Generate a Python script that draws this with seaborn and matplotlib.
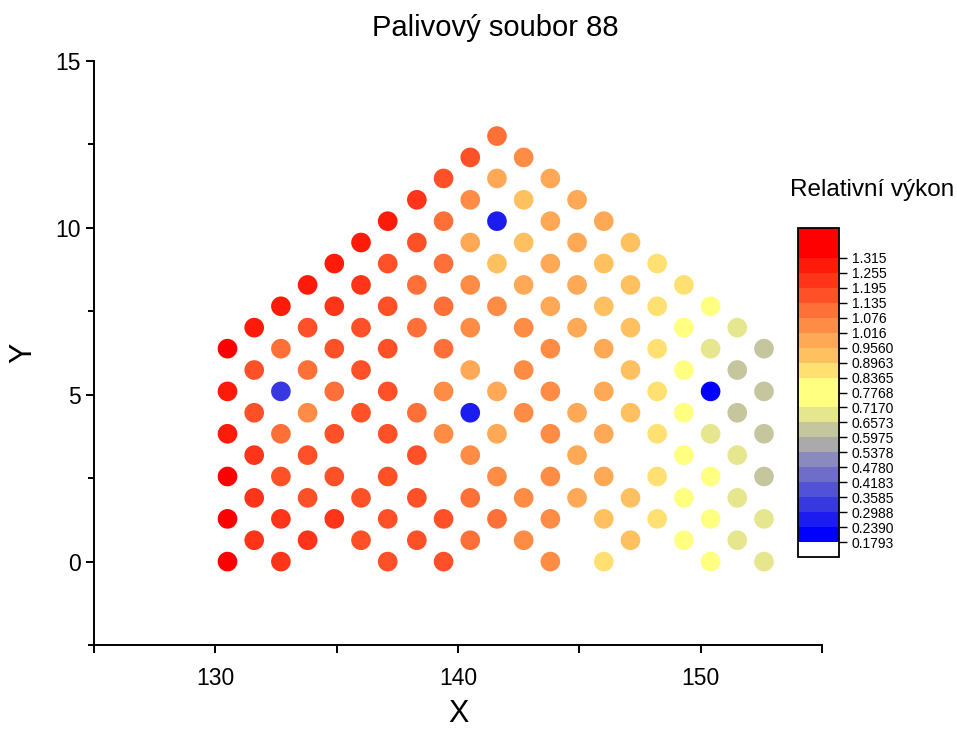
import numpy as np
import pandas as pd
import matplotlib
matplotlib.use('agg')
import matplotlib.pyplot as plt
import seaborn as sns
from matplotlib.colors import ListedColormap, BoundaryNorm
from matplotlib.cm import ScalarMappable
from matplotlib.ticker import MultipleLocator, FixedLocator


# --- data

# x position of every pin column, y position of every half-row
col_x = [130.5, 131.6, 132.7, 133.8, 134.9, 136.0, 137.1, 138.3, 139.4, 140.5,
         141.6, 142.7, 143.8, 144.9, 146.0, 147.1, 148.2, 149.3, 150.4, 151.5, 152.6]
row_y = [0.0, 0.64, 1.28, 1.91, 2.55, 3.19, 3.83, 4.46, 5.10, 5.74, 6.38,
         7.01, 7.65, 8.29, 8.93, 9.56, 10.20, 10.84, 11.48, 12.11, 12.75]

# relative power per column, bottom to top (every second half-row), None = empty position
col_vals = [
    [1.34, 1.34, 1.34, 1.28, 1.28, 1.34],
    [1.22, 1.22, 1.22, 1.16, 1.16, 1.28],
    [1.22, 1.22, 1.16, 1.10, 0.33, 1.10, 1.28],
    [1.22, 1.16, 1.16, 1.04, 1.10, 1.16, 1.28],
    [None, 1.22, 1.16, 1.16, 1.10, 1.16, 1.22, 1.28],
    [1.16, 1.16, None, 1.16, 1.16, 1.16, 1.22, 1.28],
    [1.16, 1.16, 1.16, 1.16, 1.16, 1.16, 1.16, 1.16, 1.28],
    [1.16, 1.16, 1.16, 1.10, None, 1.10, 1.10, 1.16, 1.22],
    [1.16, 1.16, None, 1.04, 1.04, 1.10, 1.10, 1.10, 1.10, 1.16],
    [1.10, 1.10, 1.04, 0.27, 0.98, 1.04, 1.04, 0.98, 1.04, 1.16],
    [None, 1.10, 1.04, 0.98, 0.98, None, 1.04, 0.92, 0.27, 0.98, 1.10],
    [1.04, 1.04, None, 1.04, 1.04, 1.04, 0.98, 0.92, 0.92, 1.04],
    [1.04, 1.04, 1.04, 1.04, 1.04, 1.04, 0.98, 0.98, 0.98, 0.98],
    [None, 0.98, 0.98, 0.98, None, 0.98, 0.98, 0.98, 0.98],
    [0.86, 0.92, 0.98, 0.98, 0.98, 0.98, 0.92, 0.92, 0.98],
    [0.92, 0.92, None, 0.92, 0.92, 0.92, 0.92, 0.92],
    [None, 0.86, 0.86, 0.86, 0.86, 0.86, 0.86, 0.86],
    [0.78, 0.78, 0.78, 0.78, 0.78, 0.78, 0.86],
    [0.78, 0.78, 0.78, 0.69, 0.21, 0.69, 0.78],
    [0.69, 0.69, 0.69, 0.63, 0.63, 0.69],
    [0.69, 0.69, 0.63, 0.63, 0.63, 0.63],
]

# colour levels of the scale
bounds = [0.1196, 0.1793, 0.2390, 0.2988, 0.3585, 0.4183, 0.4780, 0.5378, 0.5975,
          0.6573, 0.7170, 0.7768, 0.8365, 0.8963, 0.9560, 1.016, 1.076, 1.135,
          1.195, 1.255, 1.315, 1.375, 1.435]
band_colors = ["#FFFFFF", "#0000FF", "#1C1CF0", "#3838E0", "#5252D6", "#6E6EC8",
               "#8A8ABE", "#AAAAAA", "#C6C69E", "#E6E68E", "#FFFF80", "#FFFF80",
               "#FFE070", "#FFC060", "#FFA855", "#FF8C44", "#FF7038", "#FF5028",
               "#FF3418", "#FF1A0A", "#FF0000", "#FF0000"]
cb_labels = ["0.1793", "0.2390", "0.2988", "0.3585", "0.4183", "0.4780", "0.5378",
             "0.5975", "0.6573", "0.7170", "0.7768", "0.8365", "0.8963", "0.9560",
             "1.016", "1.076", "1.135", "1.195", "1.255", "1.315"]


# --- build table of pins

rows = []
for i, vals in enumerate(col_vals):
    for k, v in enumerate(vals):
        if v is None:
            continue
        j = (i % 2) + 2 * k
        rows.append((col_x[i], row_y[j], v))
df = pd.DataFrame(rows, columns=["x", "y", "v"])

cmap = ListedColormap(band_colors)
norm = BoundaryNorm(bounds, cmap.N)


# --- plot

sns.set_style("ticks")
plt.rcParams['font.family'] = ['Liberation Sans', 'DejaVu Sans']
plt.rcParams.update({'text.color': 'black', 'axes.labelcolor': 'black',
                     'xtick.color': 'black', 'ytick.color': 'black',
                     'axes.edgecolor': 'black'})

fig = plt.figure(figsize=(9.57, 7.31), dpi=100)
ax = fig.add_axes([0.0982, 0.1176, 0.761, 0.799])

sns.scatterplot(data=df, x="x", y="y", hue="v", palette=cmap, hue_norm=norm,
                s=200, linewidth=0, legend=False, ax=ax)

ax.set_xlim(125, 155)
ax.set_ylim(-2.5, 15)
ax.xaxis.set_major_locator(FixedLocator([130, 140, 150]))
ax.xaxis.set_minor_locator(MultipleLocator(5))
ax.yaxis.set_major_locator(MultipleLocator(5))
ax.yaxis.set_minor_locator(MultipleLocator(2.5))

for side in ['top', 'right']:
    ax.spines[side].set_visible(False)
for side in ['left', 'bottom']:
    ax.spines[side].set_linewidth(1.4)
    ax.spines[side].set_color('black')

ax.tick_params(which='both', direction='out', width=1.4, color='black',
               labelcolor='black', labelsize=16.5)
ax.tick_params(axis='x', which='both', length=6, pad=10)
ax.tick_params(axis='y', which='major', length=6)
ax.tick_params(axis='y', which='minor', length=4)

ax.set_xlabel("X", fontsize=22, labelpad=6, color='black')
ax.set_ylabel("Y", fontsize=22, labelpad=12, color='black')

fig.text(0.518, 0.962, "Palivový soubor 88", ha='center', va='center',
         fontsize=21, color='black')

# colour scale
cax = fig.add_axes([0.834, 0.238, 0.0428, 0.45])
cb = fig.colorbar(ScalarMappable(norm=norm, cmap=cmap), cax=cax,
                  ticks=[float(t) for t in cb_labels])
cb.ax.set_yticklabels(cb_labels)
cb.ax.tick_params(labelsize=10, length=6, width=1, pad=3, color='black',
                  labelcolor='black')
cb.ax.minorticks_off()
cb.outline.set_linewidth(1.3)
cb.outline.set_edgecolor('black')
fig.text(0.911, 0.740, "Relativní výkon", ha='center', va='center',
         fontsize=17.5, color='black')

fig.savefig("out.png", dpi=100)
print('Info:   ', 'Normal termination')
